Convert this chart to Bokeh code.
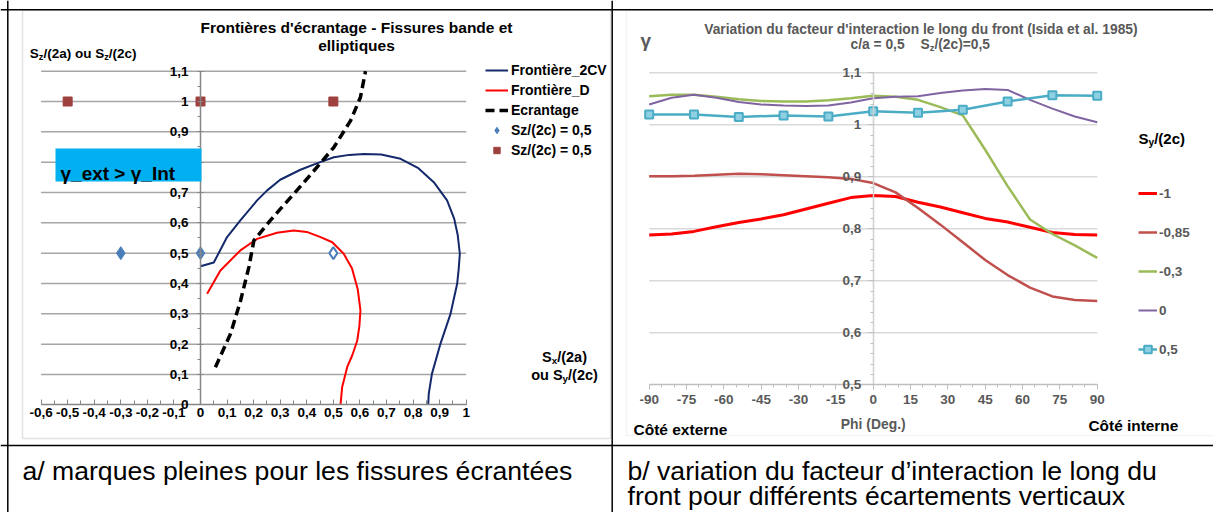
from bokeh.plotting import figure
from bokeh.models import (Range1d, LinearAxis, FixedTicker, CustomJSTickFormatter, Label,
                          BoxAnnotation, Span, Legend, LegendItem)
from bokeh.embed import file_html
from bokeh.resources import INLINE

FONT = "Liberation Sans"

# ---------------- data : left chart (screening boundaries) ----------------
F2CV_X = [0.0, 0.05, 0.10, 0.15, 0.213, 0.251, 0.30, 0.376, 0.45, 0.502, 0.56, 0.615, 0.68, 0.753,
          0.82, 0.878, 0.928, 0.955, 0.968, 0.976, 0.972, 0.966, 0.941, 0.903, 0.871, 0.859, 0.857]
F2CV_Y = [0.457, 0.469, 0.553, 0.608, 0.674, 0.707, 0.742, 0.775, 0.80, 0.816, 0.824, 0.827, 0.825, 0.811,
          0.78, 0.734, 0.674, 0.613, 0.56, 0.498, 0.45, 0.399, 0.30, 0.201, 0.102, 0.036, 0.0]
FD_X = [0.025, 0.075, 0.15, 0.213, 0.288, 0.351, 0.40, 0.452, 0.496, 0.539, 0.57, 0.592, 0.602,
        0.598, 0.59, 0.572, 0.552, 0.533, 0.527]
FD_Y = [0.366, 0.443, 0.509, 0.547, 0.567, 0.575, 0.570, 0.553, 0.536, 0.498, 0.45, 0.38, 0.311,
        0.26, 0.212, 0.165, 0.124, 0.058, 0.0]
ECR_X = [0.056, 0.113, 0.151, 0.182, 0.201, 0.263, 0.30, 0.376, 0.445, 0.502, 0.565, 0.602, 0.621]
ECR_Y = [0.124, 0.234, 0.344, 0.454, 0.542, 0.608, 0.645, 0.72, 0.79, 0.849, 0.937, 1.014, 1.10]
BLUE_SCREENED_X = [-0.3, 0.0]
BLUE_SCREENED_Y = [0.5, 0.5]
BLUE_OPEN_X = [0.5]
BLUE_OPEN_Y = [0.5]
BROWN_X = [-0.5, 0.0, 0.5]
BROWN_Y = [1.0, 1.0, 1.0]
LX_TICKS = [-0.6, -0.5, -0.4, -0.3, -0.2, -0.1, 0.0, 0.1, 0.2, 0.3, 0.4, 0.5, 0.6, 0.7, 0.8, 0.9, 1.0]
LX_MINOR = [round(-0.6 + 0.05 * i, 2) for i in range(33)]
LY_TICKS = [0.0, 0.1, 0.2, 0.3, 0.4, 0.5, 0.6, 0.7, 0.8, 0.9, 1.0, 1.1]
LY_MINOR = [round(0.05 * i, 2) for i in range(23)]
LEFT_LABELS = ["Frontière_2CV", "Frontière_D", "Ecrantage", "Sz/(2c) = 0,5", "Sz/(2c) = 0,5"]

# ---------------- data : right chart (interaction factor along the front) ----------------
PHI = [-90, -72, -54, -36, -18, 0, 18, 36, 54, 72, 90]
PHI_FINE = [-90, -81, -72, -63, -54, -45, -36, -27, -18, -9, 0, 9, 18, 27, 36, 45, 54, 63, 72, 81, 90]
G_M1 = [0.788, 0.790, 0.795, 0.804, 0.812, 0.819, 0.827, 0.838, 0.849, 0.860, 0.864,
        0.862, 0.851, 0.842, 0.831, 0.820, 0.813, 0.803, 0.793, 0.789, 0.788]
G_M085 = [0.901, 0.901, 0.902, 0.904, 0.906, 0.905, 0.903, 0.901, 0.899, 0.896, 0.888,
          0.870, 0.840, 0.808, 0.774, 0.740, 0.711, 0.687, 0.670, 0.663, 0.661]
G_M03 = [1.055, 1.058, 1.058, 1.054, 1.049, 1.046, 1.045, 1.045, 1.047, 1.051, 1.056,
         1.054, 1.048, 1.034, 1.018, 0.952, 0.882, 0.818, 0.790, 0.768, 0.744]
G_0 = [1.039, 1.052, 1.058, 1.052, 1.044, 1.039, 1.037, 1.036, 1.037, 1.043, 1.051,
       1.054, 1.055, 1.061, 1.066, 1.069, 1.067, 1.048, 1.031, 1.016, 1.005]
G_05 = [1.020, 1.020, 1.015, 1.018, 1.016, 1.026, 1.023, 1.029, 1.045, 1.057, 1.056]
SERIES_LABELS = ["-1", "-0,85", "-0,3", "0", "0,5"]
RX_TICKS = [-90, -75, -60, -45, -30, -15, 0, 15, 30, 45, 60, 75, 90]
RX_MINOR = list(range(-90, 91, 5))
RY_TICKS = [0.5, 0.6, 0.7, 0.8, 0.9, 1.0, 1.1]
RY_MINOR = [round(0.5 + 0.02 * i, 2) for i in range(31)]

# ---------------- page geometry (page pixels) ----------------
W, H = 1213, 512
PX0, PX1, PY0, PY1 = 0, W, 0, H


def xr(anchor_px, anchor_val, ppu):
    return Range1d(anchor_val + (PX0 - anchor_px) / ppu, anchor_val + (PX1 - anchor_px) / ppu)


def yr(anchor_py, anchor_val, ppu):
    return Range1d(anchor_val + (anchor_py - PY1) / ppu, anchor_val + (anchor_py - PY0) / ppu)


p = figure(width=W, height=H, x_range=Range1d(PX0, PX1), y_range=Range1d(PY1, PY0),
           x_axis_location=None, y_axis_location=None, toolbar_location=None, tools="",
           output_backend="svg", min_border=0, outline_line_color=None,
           background_fill_color="white", border_fill_color="white")
p.xgrid.visible = False
p.ygrid.visible = False
p.extra_x_ranges = {"Lx": xr(200.0, 0.0, 265.7), "Rx": xr(872.7, 0.0, 2.489)}
p.extra_y_ranges = {"Ly": yr(404.3, 0.0, 303.3), "Ry": yr(384.3, 0.5, 520.0)}

fmt = CustomJSTickFormatter(code="var v = Math.round(tick*100)/100; return v.toString().replace('.', ',');")

# ---------------- table & chart frames ----------------
p.add_layout(Span(location=9.3, dimension="width", line_color="black", line_width=1.5))
p.add_layout(Span(location=7.3, dimension="height", line_color="black", line_width=1.5))
p.add_layout(Span(location=611.7, dimension="height", line_color="black", line_width=1.5))
p.add_layout(Span(location=445.0, dimension="width", line_color="black", line_width=1.5))
p.add_layout(BoxAnnotation(left=22, right=610, top=9.5, bottom=438, fill_color="white", fill_alpha=1,
                           line_color="#A6A6A6", line_width=1.5, level="underlay"))
p.add_layout(BoxAnnotation(left=626, right=1230, top=9.5, bottom=435, fill_color="white", fill_alpha=1,
                           line_color="#D9D9D9", line_width=1.5, level="underlay"))

# ---------------- left chart ----------------
L = dict(x_range_name="Lx", y_range_name="Ly")
p.segment(x0=[LX_TICKS[0]] * (len(LY_TICKS) - 1), x1=[LX_TICKS[-1]] * (len(LY_TICKS) - 1),
          y0=LY_TICKS[1:], y1=LY_TICKS[1:], line_color="#A6A6A6", line_width=1.5, **L)

lax = LinearAxis(fixed_location=0.0, bounds=(LX_TICKS[0], LX_TICKS[-1]),
                 ticker=FixedTicker(ticks=LX_TICKS, minor_ticks=LX_MINOR), formatter=fmt,
                 axis_line_color="#868686", axis_line_width=1.5,
                 major_tick_line_color="#868686", major_tick_in=5, major_tick_out=0,
                 minor_tick_line_color="#868686", minor_tick_in=4, minor_tick_out=0,
                 major_label_standoff=3, major_label_text_font=FONT, major_label_text_font_style="bold",
                 major_label_text_font_size="13.5px", major_label_text_color="black", **L)
p.add_layout(lax, "below")
lay = LinearAxis(fixed_location=0.0, bounds=(LY_TICKS[0], LY_TICKS[-1]),
                 ticker=FixedTicker(ticks=LY_TICKS, minor_ticks=LY_MINOR), formatter=fmt,
                 axis_line_color="#868686", axis_line_width=1.5,
                 major_tick_line_color="#868686", major_tick_in=3, major_tick_out=3,
                 minor_tick_line_color="#868686", minor_tick_in=0, minor_tick_out=3,
                 major_label_standoff=9, major_label_text_font=FONT, major_label_text_font_style="bold",
                 major_label_text_font_size="13.5px", major_label_text_color="black", **L)
p.add_layout(lay, "left")

r_2cv = p.line(F2CV_X, F2CV_Y, line_color="#14296B", line_width=2, **L)
r_d = p.line(FD_X, FD_Y, line_color="#FF0000", line_width=2, **L)
r_ecr = p.line(ECR_X, ECR_Y, line_color="black", line_width=3.5, line_dash="9 5", **L)
r_blue = p.scatter(BLUE_SCREENED_X, BLUE_SCREENED_Y, marker="diamond", size=13,
                   fill_color="#4A7EBB", line_color="#4A7EBB", **L)
p.scatter(BLUE_OPEN_X, BLUE_OPEN_Y, marker="diamond", size=12, fill_color="white",
          line_color="#4A7EBB", line_width=2, **L)
r_brown = p.scatter(BROWN_X, BROWN_Y, marker="square", size=9, fill_color="#9E413E",
                    line_color="#9E413E", **L)

leg_l = Legend(items=[LegendItem(label=t, renderers=[r]) for t, r in
                      zip(LEFT_LABELS, [r_2cv, r_d, r_ecr, r_blue, r_brown])],
               location=(485 - PX0, PY1 - 158), orientation="vertical", glyph_width=23, glyph_height=16,
               label_height=16, label_standoff=3, spacing=4, padding=0, margin=0,
               border_line_alpha=0, background_fill_alpha=0, label_text_font=FONT,
               label_text_font_style="bold", label_text_font_size="14px", label_text_color="black")
p.add_layout(leg_l, "center")

# ---------------- right chart ----------------
R = dict(x_range_name="Rx", y_range_name="Ry")
p.segment(x0=[RX_TICKS[0]] * (len(RY_TICKS) - 1), x1=[RX_TICKS[-1]] * (len(RY_TICKS) - 1),
          y0=RY_TICKS[1:], y1=RY_TICKS[1:], line_color="#D9D9D9", line_width=1.5, **R)
rax = LinearAxis(fixed_location=RY_TICKS[0], bounds=(RX_TICKS[0], RX_TICKS[-1]),
                 ticker=FixedTicker(ticks=RX_TICKS, minor_ticks=RX_MINOR), formatter=fmt,
                 axis_line_color="#BFBFBF", axis_line_width=1.5,
                 major_tick_line_color="#BFBFBF", major_tick_in=0, major_tick_out=5,
                 minor_tick_line_color="#BFBFBF", minor_tick_in=0, minor_tick_out=3,
                 major_label_standoff=5, major_label_text_font=FONT, major_label_text_font_style="bold",
                 major_label_text_font_size="13.5px", major_label_text_color="#595959", **R)
p.add_layout(rax, "below")
ray = LinearAxis(fixed_location=0.0, bounds=(RY_TICKS[0], RY_TICKS[-1]),
                 ticker=FixedTicker(ticks=RY_TICKS, minor_ticks=RY_MINOR), formatter=fmt,
                 axis_line_color="#D0D0D0", axis_line_width=1.5,
                 major_tick_line_color="#BFBFBF", major_tick_in=0, major_tick_out=5,
                 minor_tick_line_color="#BFBFBF", minor_tick_in=0, minor_tick_out=3,
                 major_label_standoff=7, major_label_text_font=FONT, major_label_text_font_style="bold",
                 major_label_text_font_size="13.5px", major_label_text_color="#595959", **R)
p.add_layout(ray, "left")

r1 = p.line(PHI_FINE, G_M1, line_color="#FF0000", line_width=3, **R)
r2 = p.line(PHI_FINE, G_M085, line_color="#C0504D", line_width=2.5, **R)
r3 = p.line(PHI_FINE, G_M03, line_color="#9BBB59", line_width=2.5, **R)
r4 = p.line(PHI_FINE, G_0, line_color="#8064A2", line_width=2, **R)
r5 = p.line(PHI, G_05, line_color="#4BACC6", line_width=2.5, **R)
r5m = p.scatter(PHI, G_05, marker="square", size=8, fill_color="#8FD0E2", line_color="#4BACC6",
                line_width=2, **R)

leg_r = Legend(items=[LegendItem(label=t, renderers=rs) for t, rs in
                      zip(SERIES_LABELS, [[r1], [r2], [r3], [r4], [r5, r5m]])],
               location=(1138 - PX0, PY1 - 359.3), orientation="vertical", glyph_width=19, glyph_height=20,
               label_height=20, label_standoff=2, spacing=19, padding=0, margin=0,
               border_line_alpha=0, background_fill_alpha=0, label_text_font=FONT,
               label_text_font_style="bold", label_text_font_size="13.5px", label_text_color="#595959")
p.add_layout(leg_r, "center")

# ---------------- texts ----------------
AB = {" ": 278, "(": 333, ")": 333, ",": 278, "/": 278, "=": 584, "S": 667, "a": 556, "c": 556,
      "o": 611, "u": 611, "x": 556, "y": 556, "z": 500, "0": 556, "2": 556, "5": 556}


def label(x, y, text, size, color="black", style="bold", align="left", font=FONT):
    p.add_layout(Label(x=x, y=y, text=text, text_font=font, text_font_size=f"{size}px",
                       text_font_style=style, text_color=color, text_align=align,
                       text_baseline="alphabetic"))


def rich(x, y, parts, size, color="black", align="left"):
    sub = 0.68
    widths = [sum(AB.get(c, 556) for c in t) * size * (sub if s else 1) / 1000 for t, s in parts]
    if align == "center":
        x -= sum(widths) / 2
    for (t, s), w in zip(parts, widths):
        label(x, y + (0.25 * size if s else 0), t, round(size * (sub if s else 1), 2), color)
        x += w


# left chart texts
label(356, 27.3, "Frontières d'écrantage - Fissures bande et", 15.5, align="center")
label(356, 45, "elliptiques", 15.5, align="center")
rich(29.3, 53.3, [("S", False), ("z", True), ("/(2a) ou S", False), ("z", True), ("/(2c)", False)], 13.5)
rich(564, 356.5, [("S", False), ("x", True), ("/(2a)", False)], 14.5, align="center")
rich(564, 374, [("ou S", False), ("y", True), ("/(2c)", False)], 14.5, align="center")
p.add_layout(BoxAnnotation(left=55, right=201, top=148, bottom=181, fill_color="#00B0F0",
                           fill_alpha=1, line_alpha=0))
label(60, 173, "γ_ext > γ_Int", 19)

# right chart texts
label(920.4, 28.5, "Variation du facteur d'interaction le long du front (Isida et al. 1985)", 13.8,
      color="#595959", align="center")
label(850, 44.3, "c/a = 0,5", 13.8, color="#595959")
rich(920, 44.3, [("S", False), ("z", True), ("/(2c)=0,5", False)], 13.8, color="#595959")
label(640, 40, "γ", 19, color="#595959")
rich(1138, 138, [("S", False), ("y", True), ("/(2c)", False)], 15)
label(872.7, 423, "Phi (Deg.)", 13.9, color="#595959", align="center")
label(633, 429, "Côté externe", 15.5)
label(1088, 425, "Côté interne", 15.4)

# captions
label(22, 470, "a/ marques pleines pour les fissures écrantées", 26.6, style="normal")
label(627, 470, "b/ variation du facteur d’interaction le long du", 26.6, style="normal")
label(627, 495, "front pour différents écartements verticaux", 26.6, style="normal")

open("out.html", "w").write(file_html(p, INLINE))
